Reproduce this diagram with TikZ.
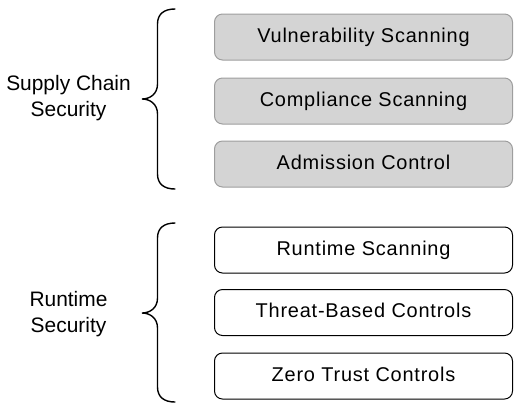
\documentclass[tikz,border=0pt]{standalone}
\usepackage{fontspec}
\setmainfont{Liberation Sans}
\newfontfamily\boxfont{Liberation Sans}[LetterSpace=4]
\begin{document}
\begin{tikzpicture}[x=1bp,y=-1bp,
  graybox/.style={draw=black!38,fill=black!17,line width=1bp,rounded corners=8bp,
    minimum width=298bp,minimum height=46bp,inner sep=0pt,
    text height=14.4bp,text depth=4.2bp,
    font=\boxfont\fontsize{20}{24}\selectfont},
  whitebox/.style={graybox,draw=black,fill=white},
  bracepath/.style={line width=1.4bp,line cap=round},
  grouplabel/.style={align=center,font=\fontsize{21}{26}\selectfont}]
\useasboundingbox (0,0) rectangle (514,403);

% supply chain group
\node[graybox] (vs) at (363.5,37) {Vulnerability Scanning};
\node[graybox] (cs) at (363.5,101) {Compliance Scanning};
\node[graybox] (ac) at (363.5,164) {Admission Control};

% runtime group
\node[whitebox] (rs) at (363.5,250) {Runtime Scanning};
\node[whitebox] (tb) at (363.5,312.5) {Threat-Based Controls};
\node[whitebox] (zt) at (363.5,376) {Zero Trust Controls};

% group labels
\node[grouplabel] (scs) at (68.5,98.5) {Supply Chain\\Security};
\node[grouplabel] (rts) at (68.5,314) {Runtime\\Security};

% curly braces
\draw[bracepath] (175,9) .. controls (164,9) and (157.5,14) .. (157.5,24)
  -- (157.5,84) .. controls (157.5,94) and (150,99) .. (142,99)
  .. controls (150,99) and (157.5,104) .. (157.5,114)
  -- (157.5,174) .. controls (157.5,184) and (164,189) .. (175,189);
\draw[bracepath] (175,223) .. controls (164,223) and (157.5,228) .. (157.5,238)
  -- (157.5,298) .. controls (157.5,308) and (150,313) .. (142,313)
  .. controls (150,313) and (157.5,318) .. (157.5,328)
  -- (157.5,387) .. controls (157.5,397) and (164,402) .. (175,402);
\end{tikzpicture}
\end{document}
